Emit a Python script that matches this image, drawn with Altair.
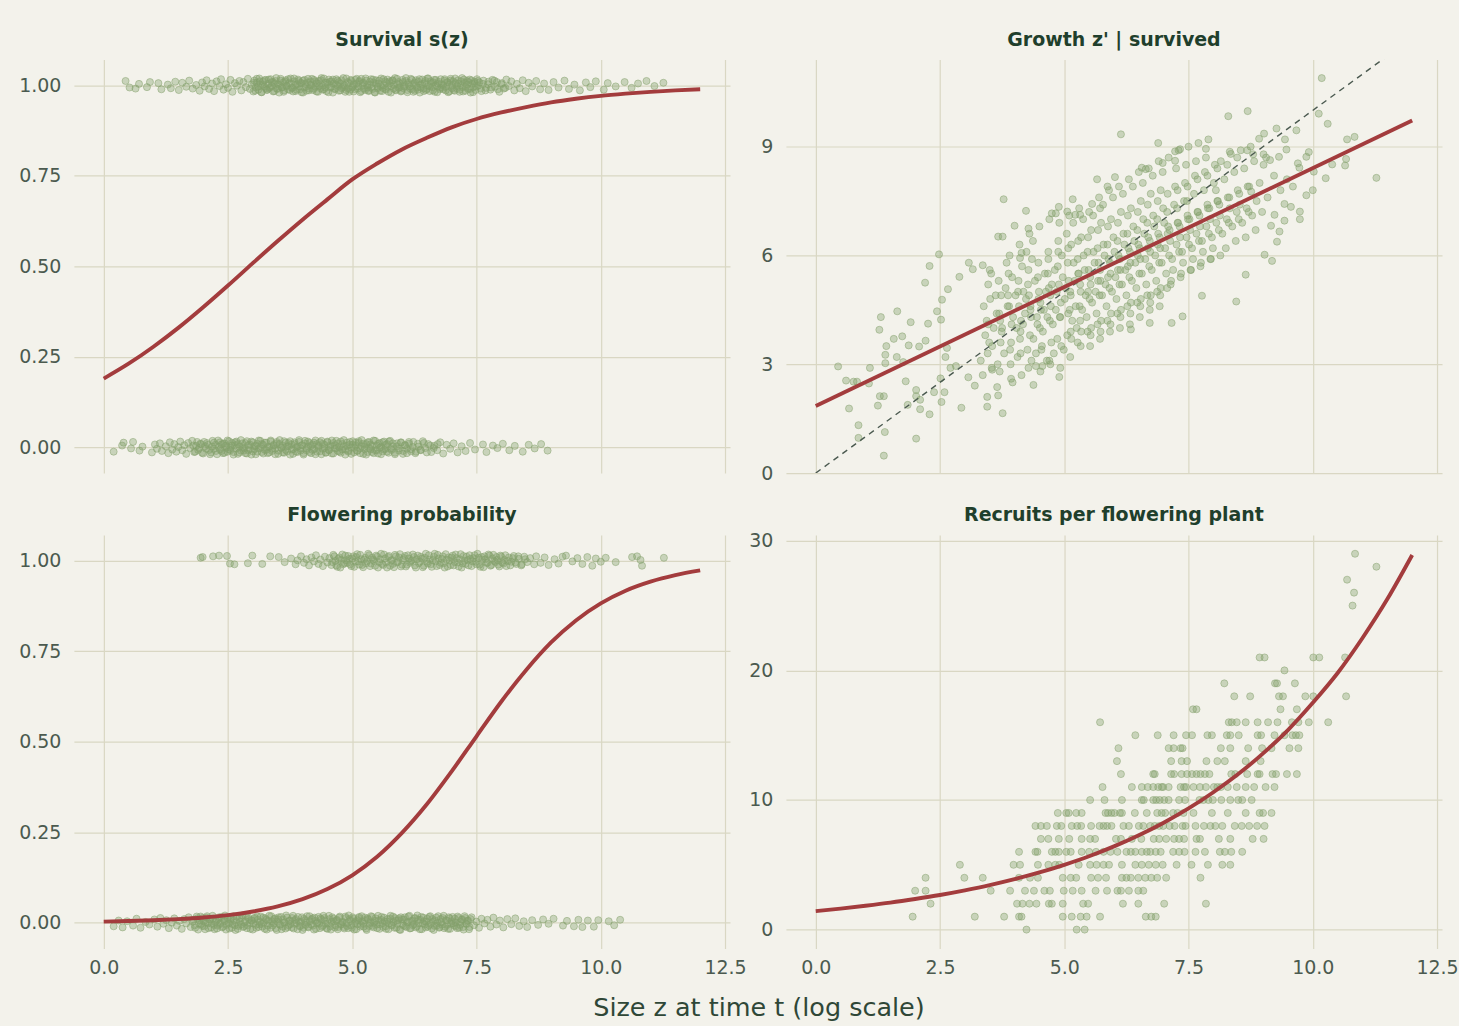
import altair as alt
import pandas as pd

# ---------------- text ----------------
PANEL_TITLES = ["Survival s(z)", "Growth z' | survived", "Flowering probability", "Recruits per flowering plant"]
X_TITLE = "Size z at time t (log scale)"
X_TICKS = [0, 2.5, 5, 7.5, 10, 12.5]
PROB_TICKS = [0, 0.25, 0.5, 0.75, 1.0]
GROWTH_TICKS = [0, 3, 6, 9]
RECRUIT_TICKS = [0, 10, 20, 30]

# ---------------- fitted curves ----------------
CURVE_X = [0.0, 0.5, 1.0, 1.5, 2.0, 2.5, 3.0, 3.5, 4.0, 4.5, 5.0, 5.5, 6.0,
           6.5, 7.0, 7.5, 8.0, 8.5, 9.0, 9.5, 10.0, 10.5, 11.0, 11.5, 12.0]
SURV_CURVE = [0.190, 0.231, 0.278, 0.330, 0.387, 0.447, 0.509, 0.570, 0.629, 0.685, 0.740, 0.784, 0.823,
              0.855, 0.884, 0.907, 0.925, 0.940, 0.953, 0.963, 0.971, 0.977, 0.982, 0.986, 0.989]
FLOWER_CURVE = [0.003, 0.0045, 0.0066, 0.0098, 0.0143, 0.021, 0.031, 0.045, 0.065, 0.093, 0.131, 0.182, 0.248,
                0.327, 0.418, 0.515, 0.611, 0.698, 0.774, 0.835, 0.882, 0.917, 0.942, 0.960, 0.973]
RECRUIT_CURVE = [1.43, 1.62, 1.84, 2.08, 2.36, 2.67, 3.03, 3.43, 3.89, 4.41, 5.0, 5.66, 6.42,
                 7.28, 8.25, 9.35, 10.6, 12.0, 13.6, 15.4, 17.5, 19.8, 22.5, 25.5, 28.9]
GROWTH_LINE_X = [0.0, 12.0]
GROWTH_LINE_Y = [1.85, 9.72]
IDENTITY_X = [0.0, 12.0]
IDENTITY_Y = [0.0, 12.0]

# ---------------- binary observations: (size, vertical jitter in 1/1000) ----------------
SURV_ALIVE = [
    (0.44,12),(0.52,-6),(0.64,-9),(0.71,4),(0.87,-5),(0.93,9),(1.10,6),(1.16,-11),(1.29,2),(1.35,-8),
    (1.44,10),(1.51,-13),(1.58,7),(1.66,-4),(1.72,13),(1.79,-9),(1.86,1),(1.93,-15),(1.98,8),(2.03,-3),
    (2.07,14),(2.12,-10),(2.18,5),(2.22,-16),(2.27,11),(2.33,-2),(2.36,17),(2.41,-12),(2.46,3),(2.50,-7),
    (2.55,15),(2.59,-18),(2.64,6),(2.68,-1),(2.73,12),(2.77,-14),(2.81,9),(2.86,-5),(2.90,18),(2.94,-10),
    (2.98,2),(3.01,-17),(3.03,13),(3.06,-6),(3.08,7),(3.11,-12),(3.13,19),(3.16,0),(3.18,-19),(3.21,10),
    (3.23,-4),(3.26,15),(3.28,-13),(3.31,4),(3.33,-8),(3.36,17),(3.38,-2),(3.41,9),(3.43,-16),(3.46,12),
    (3.48,-9),(3.51,3),(3.53,-20),(3.56,18),(3.58,-5),(3.61,8),(3.63,-14),(3.66,14),(3.68,-1),(3.71,-11),
    (3.73,6),(3.76,19),(3.78,-7),(3.81,-17),(3.83,11),(3.86,1),(3.88,-12),(3.91,16),(3.93,-3),(3.96,7),
    (3.98,-19),(4.01,13),(4.03,-6),(4.06,4),(4.08,-15),(4.11,18),(4.13,-9),(4.16,10),(4.18,0),(4.21,-13),
    (4.23,15),(4.26,-4),(4.28,6),(4.31,-18),(4.33,12),(4.36,-8),(4.38,20),(4.41,-1),(4.43,-11),(4.46,8),
    (4.48,-16),(4.51,3),(4.53,16),(4.56,-6),(4.58,11),(4.61,-20),(4.63,5),(4.66,-10),(4.68,17),(4.71,-2),
    (4.73,9),(4.76,-14),(4.78,14),(4.81,-5),(4.83,1),(4.86,-18),(4.88,19),(4.91,-8),(4.93,6),(4.96,-12),
    (4.98,12),(5.01,-3),(5.03,-17),(5.06,15),(5.08,4),(5.11,-9),(5.13,10),(5.16,-19),(5.18,18),(5.21,-1),
    (5.23,7),(5.26,-13),(5.28,13),(5.31,-6),(5.33,-16),(5.36,2),(5.38,17),(5.41,-10),(5.43,8),(5.46,-20),
    (5.48,14),(5.51,-4),(5.53,5),(5.56,-15),(5.58,19),(5.61,-7),(5.63,0),(5.66,11),(5.68,-12),(5.71,16),
    (5.73,-18),(5.76,6),(5.78,-2),(5.81,13),(5.83,-9),(5.86,20),(5.88,-14),(5.91,3),(5.93,9),(5.96,-5),
    (5.98,-17),(6.01,15),(6.03,-8),(6.06,1),(6.08,12),(6.11,-19),(6.13,7),(6.16,-3),(6.18,18),(6.21,-11),
    (6.23,4),(6.26,-15),(6.28,14),(6.31,-6),(6.33,10),(6.36,-20),(6.38,2),(6.41,16),(6.43,-9),(6.46,6),
    (6.48,-13),(6.51,19),(6.53,-1),(6.56,-16),(6.58,11),(6.61,-5),(6.63,8),(6.66,-18),(6.68,15),(6.71,-3),
    (6.73,5),(6.76,-11),(6.78,17),(6.81,-7),(6.83,0),(6.86,13),(6.88,-14),(6.91,9),(6.93,-19),(6.96,3),
    (6.98,18),(7.01,-8),(7.03,11),(7.06,-15),(7.08,6),(7.11,-2),(7.13,14),(7.16,-12),(7.18,1),(7.21,20),
    (7.23,-17),(7.26,7),(7.28,-4),(7.31,12),(7.33,-10),(7.36,16),(7.38,-20),(7.41,4),(7.43,-6),(7.46,10),
    (7.48,-13),(7.51,17),(7.53,-1),(7.56,8),(7.60,-16),(7.64,13),(7.69,-7),(7.73,3),(7.78,-12),(7.82,15),
    (7.87,-4),(7.91,9),(7.96,-18),(8.01,6),(8.05,-9),(8.10,16),(8.15,-2),(8.20,11),(8.26,-14),(8.31,4),
    (8.37,-8),(8.43,14),(8.49,-16),(8.55,7),(8.62,-3),(8.70,12),(8.78,-11),(8.86,5),(8.95,-13),(9.05,9),
    (9.15,-6),(9.27,13),(9.36,-10),(9.47,2),(9.58,-14),(9.70,8),(9.79,-5),(9.90,11),(10.06,-12),(10.14,6),
    (10.30,-3),(10.48,9),(10.62,-7),(10.75,5),(10.92,12),(11.08,-2),(11.26,7),
    (3.02,7),(3.05,-15),(3.08,18),(3.11,-3),(3.14,11),(3.17,-19),(3.20,2),(3.23,14),(3.26,-8),(3.29,-12),
    (3.32,16),(3.35,-5),(3.38,9),(3.41,-17),(3.44,4),(3.47,20),(3.50,-10),(3.53,0),(3.56,13),(3.59,-6),
    (3.62,-18),(3.65,10),(3.68,-2),(3.71,17),(3.74,-13),(3.77,5),(3.80,-7),(3.83,19),(3.86,-16),(3.89,3),
    (3.92,12),(3.95,-11),(3.98,6),(4.01,-20),(4.04,15),(4.07,-4),(4.10,8),(4.13,-14),(4.16,1),(4.19,18),
    (4.22,-9),(4.25,11),(4.28,-17),(4.31,4),(4.34,-2),(4.37,14),(4.40,-12),(4.43,19),(4.46,-6),(4.49,7),
    (4.52,-19),(4.55,10),(4.58,-4),(4.61,16),(4.64,-10),(4.67,2),(4.70,13),(4.73,-15),(4.76,5),(4.79,-8),
    (4.82,20),(4.85,-1),(4.88,-13),(4.91,9),(4.94,-18),(4.97,15),(5.00,-6),(5.03,3),(5.06,-11),(5.09,18),
    (5.12,-3),(5.15,12),(5.18,-16),(5.21,6),(5.24,-9),(5.27,19),(5.30,0),(5.33,-14),(5.36,10),(5.39,-5),
    (5.42,16),(5.45,-19),(5.48,4),(5.51,-8),(5.54,13),(5.57,-2),(5.60,-16),(5.63,17),(5.66,-10),(5.69,7),
    (5.72,-4),(5.75,11),(5.78,-20),(5.81,14),(5.84,1),(5.87,-12),(5.90,18),(5.93,-7),(5.96,5),(5.99,-15),
    (6.02,9),(6.05,-3),(6.08,20),(6.11,-13),(6.14,2),(6.17,-9),(6.20,15),(6.23,-18),(6.26,8),(6.29,-1),
    (6.32,-12),(6.35,17),(6.38,-6),(6.41,4),(6.44,-16),(6.47,12),(6.50,-10),(6.53,19),(6.56,-3),(6.59,6),
    (6.62,-14),(6.65,15),(6.68,0),(6.71,-19),(6.74,10),(6.77,-7),(6.80,3),(6.83,-11),(6.86,17),(6.89,-4),
    (6.92,8),(6.95,-17),(6.98,13),(7.01,-1),(7.04,-13),(7.07,19),(7.10,-8),(7.13,5),(7.16,-18),(7.19,11),
    (7.22,-5),(7.25,16),(7.28,-15),(7.31,2),(7.34,9),(7.37,-10),(7.40,14),(7.43,-19),(7.46,6),(7.49,-3),
    (7.53,12),(7.58,-9),(7.63,4),(7.68,-14),(7.74,10),(7.80,-6),(7.86,13),(7.93,-11),(8.00,3),(8.08,-7),
]
SURV_DEAD = [
    (0.20,-12),(0.37,5),(0.40,13),(0.55,-3),(0.59,15),(0.72,-9),(0.78,2),(0.97,-14),(1.03,8),(1.07,-4),
    (1.13,11),(1.17,-10),(1.25,3),(1.30,-16),(1.33,14),(1.38,-6),(1.42,9),(1.46,-12),(1.50,1),(1.54,16),
    (1.58,-8),(1.62,6),(1.66,-18),(1.70,12),(1.74,-2),(1.78,18),(1.82,-13),(1.86,4),(1.90,-7),(1.94,10),
    (1.98,-15),(2.02,15),(2.06,-4),(2.10,7),(2.14,-19),(2.18,2),(2.22,13),(2.26,-10),(2.30,19),(2.34,-6),
    (2.37,8),(2.40,-16),(2.43,11),(2.46,-1),(2.49,-12),(2.52,17),(2.55,-8),(2.58,5),(2.61,-20),(2.64,14),
    (2.67,-3),(2.70,9),(2.73,-14),(2.76,20),(2.79,0),(2.82,-9),(2.85,12),(2.88,-17),(2.91,6),(2.94,-5),
    (2.97,16),(3.00,-11),(3.03,3),(3.06,-19),(3.09,10),(3.12,-2),(3.15,18),(3.18,-13),(3.21,7),(3.24,-7),
    (3.27,13),(3.30,-16),(3.33,1),(3.36,19),(3.39,-10),(3.42,5),(3.45,-4),(3.48,15),(3.51,-18),(3.54,9),
    (3.57,-1),(3.60,-14),(3.63,17),(3.66,-7),(3.69,3),(3.72,12),(3.75,-20),(3.78,8),(3.81,-5),(3.84,14),
    (3.87,-12),(3.90,2),(3.93,20),(3.96,-9),(3.99,6),(4.02,-16),(4.05,11),(4.08,-3),(4.11,16),(4.14,-13),
    (4.17,4),(4.20,-7),(4.23,13),(4.26,-19),(4.29,9),(4.32,0),(4.35,-11),(4.38,18),(4.41,-4),(4.44,7),
    (4.47,-15),(4.50,14),(4.53,-8),(4.56,2),(4.59,19),(4.62,-17),(4.65,6),(4.68,-2),(4.71,11),(4.74,-12),
    (4.77,16),(4.80,-6),(4.83,3),(4.86,-20),(4.89,13),(4.92,-9),(4.95,8),(4.98,-1),(5.01,17),(5.04,-14),
    (5.07,5),(5.10,-10),(5.13,12),(5.16,-3),(5.19,20),(5.22,-18),(5.25,1),(5.28,9),(5.31,-13),(5.34,15),
    (5.37,-5),(5.40,4),(5.43,-16),(5.46,18),(5.49,-8),(5.52,10),(5.55,-1),(5.58,-19),(5.61,14),(5.64,-6),
    (5.67,7),(5.70,-12),(5.74,16),(5.78,-3),(5.82,11),(5.86,-15),(5.90,3),(5.94,-9),(5.98,13),(6.02,-18),
    (6.06,6),(6.10,-4),(6.14,15),(6.18,-11),(6.22,1),(6.27,-16),(6.32,10),(6.37,-7),(6.42,17),(6.47,-2),
    (6.53,9),(6.59,-13),(6.65,4),(6.71,-8),(6.77,14),(6.83,-17),(6.90,7),(6.97,-4),(7.04,11),(7.12,-14),
    (7.20,3),(7.28,-10),(7.37,12),(7.47,-6),(7.63,8),(7.70,-13),(7.83,5),(7.92,-2),(8.03,10),(8.16,-8),
    (8.27,4),(8.43,-12),(8.55,7),(8.67,-3),(8.80,9),(8.93,-9),
    (1.80,5),(1.84,-12),(1.88,15),(1.92,-2),(1.96,9),(2.00,-17),(2.04,3),(2.08,12),(2.12,-7),(2.16,-14),
    (2.19,18),(2.22,-4),(2.25,7),(2.28,-19),(2.31,1),(2.34,14),(2.37,-10),(2.40,10),(2.43,-15),(2.46,4),
    (2.49,19),(2.52,-6),(2.55,-1),(2.58,12),(2.61,-13),(2.64,6),(2.67,16),(2.70,-18),(2.73,2),(2.76,-9),
    (2.79,11),(2.82,-3),(2.85,-16),(2.88,17),(2.91,-8),(2.94,8),(2.97,-20),(3.00,14),(3.03,-5),(3.06,4),
    (3.09,-12),(3.12,19),(3.15,-2),(3.18,9),(3.21,-17),(3.24,13),(3.27,-7),(3.30,1),(3.33,-14),(3.36,16),
    (3.39,-4),(3.42,7),(3.45,-19),(3.48,11),(3.51,-9),(3.54,20),(3.57,-1),(3.60,5),(3.63,-15),(3.66,13),
    (3.69,-11),(3.72,3),(3.75,17),(3.78,-6),(3.81,-18),(3.84,9),(3.87,0),(3.90,-13),(3.93,15),(3.96,-3),
    (3.99,6),(4.02,-20),(4.05,18),(4.08,-8),(4.11,2),(4.14,12),(4.17,-16),(4.20,8),(4.23,-5),(4.26,19),
    (4.29,-12),(4.32,4),(4.35,14),(4.38,-19),(4.41,10),(4.44,-2),(4.47,-14),(4.50,16),(4.53,-7),(4.56,6),
    (4.59,-17),(4.62,12),(4.65,-3),(4.68,18),(4.71,-10),(4.74,1),(4.77,-15),(4.80,9),(4.83,20),(4.86,-6),
    (4.89,4),(4.92,-12),(4.95,15),(4.98,-18),(5.01,7),(5.04,-1),(5.07,13),(5.10,-9),(5.13,17),(5.16,-16),
    (5.19,3),(5.22,10),(5.25,-5),(5.28,-20),(5.31,14),(5.34,-2),(5.37,8),(5.40,-13),(5.43,19),(5.46,-8),
    (5.49,5),(5.52,-17),(5.55,12),(5.58,1),(5.61,-11),(5.64,16),(5.67,-4),(5.70,9),(5.73,-15),(5.76,18),
    (5.79,-7),(5.82,3),(5.86,-19),(5.90,11),(5.94,-3),(5.98,14),(6.02,-10),(6.06,6),(6.10,-16),(6.14,10),
    (6.18,-5),(6.23,15),(6.28,-12),(6.33,2),(6.38,-8),(6.44,12),(6.50,-14),(6.57,5),(6.64,-2),(6.72,9),
]
FLOWER_YES = [
    (1.95,8),(1.99,10),(2.20,12),(2.32,14),(2.48,13),(2.54,-8),(2.63,-10),(2.90,-7),(2.99,14),(3.19,-9),
    (3.35,12),(3.52,10),(3.64,-4),(3.77,6),(3.86,-10),(3.90,1),(3.97,12),(4.03,-6),(4.08,4),(4.13,-13),
    (4.18,9),(4.23,-2),(4.27,15),(4.32,-9),(4.36,3),(4.41,-15),(4.45,11),(4.50,-5),(4.54,7),(4.58,-12),
    (4.62,16),(4.66,-1),(4.70,-17),(4.74,9),(4.78,2),(4.82,-10),(4.86,14),(4.90,-6),(4.94,5),(4.98,-15),
    (5.02,12),(5.06,-3),(5.10,18),(5.14,-11),(5.18,4),(5.22,-18),(5.26,8),(5.30,-1),(5.34,15),(5.38,-8),
    (5.42,3),(5.46,-14),(5.50,11),(5.54,-4),(5.58,19),(5.62,-12),(5.66,6),(5.70,-19),(5.74,13),(5.78,0),
    (5.82,-9),(5.86,16),(5.90,-5),(5.94,9),(5.98,-16),(6.02,2),(6.06,13),(6.10,-11),(6.14,6),(6.18,-2),
    (6.22,17),(6.26,-13),(6.30,4),(6.34,-7),(6.38,11),(6.42,-18),(6.46,8),(6.50,-3),(6.54,15),(6.58,-10),
    (6.62,1),(6.66,19),(6.70,-15),(6.74,6),(6.78,-6),(6.82,12),(6.86,-19),(6.90,3),(6.94,9),(6.98,-12),
    (7.02,14),(7.06,-4),(7.10,7),(7.14,-16),(7.18,18),(7.22,-8),(7.26,0),(7.30,11),(7.34,-13),(7.38,5),
    (7.42,-2),(7.46,15),(7.50,-10),(7.54,8),(7.58,-17),(7.62,3),(7.66,12),(7.70,-6),(7.74,17),(7.78,-14),
    (7.82,6),(7.86,-1),(7.90,10),(7.94,-11),(7.98,14),(8.02,-5),(8.06,2),(8.10,-15),(8.15,9),(8.20,-3),
    (8.25,13),(8.30,-9),(8.35,5),(8.40,-13),(8.46,11),(8.52,-4),(8.58,7),(8.66,-10),(8.70,12),(8.79,-6),
    (8.87,9),(8.95,-12),(9.07,4),(9.15,-8),(9.23,11),(9.30,14),(9.43,-2),(9.53,7),(9.63,-9),(9.73,10),
    (9.83,-14),(9.90,6),(10.00,-3),(10.10,8),(10.30,-4),(10.63,10),(10.73,12),(10.80,2),(10.83,-14),(11.27,8),
    (4.60,-4),(4.64,12),(4.68,-13),(4.72,5),(4.76,-19),(4.80,17),(4.84,-7),(4.88,1),(4.92,13),(4.96,-10),
    (5.00,6),(5.04,-17),(5.08,10),(5.12,-2),(5.16,16),(5.20,-12),(5.24,3),(5.28,-7),(5.32,19),(5.36,-15),
    (5.40,8),(5.44,-1),(5.48,14),(5.52,-19),(5.56,4),(5.60,-9),(5.64,17),(5.68,-5),(5.72,10),(5.76,-14),
    (5.80,2),(5.84,-18),(5.88,12),(5.92,-3),(5.96,18),(6.00,-11),(6.04,7),(6.08,-16),(6.12,15),(6.16,-6),
    (6.20,1),(6.24,10),(6.28,-19),(6.32,14),(6.36,-3),(6.40,6),(6.44,-14),(6.48,19),(6.52,-8),(6.56,3),
    (6.60,-17),(6.64,11),(6.68,-2),(6.72,16),(6.76,-12),(6.80,5),(6.84,-7),(6.88,18),(6.92,-16),(6.96,0),
    (7.00,9),(7.04,-13),(7.08,17),(7.12,-5),(7.16,4),(7.20,-19),(7.24,13),(7.28,-9),(7.32,2),(7.36,15),
    (7.40,-15),(7.44,7),(7.48,-3),(7.52,19),(7.56,-11),(7.60,10),(7.64,-18),(7.68,4),(7.72,-6),(7.76,14),
    (7.80,-12),(7.84,16),(7.88,-4),(7.92,2),(7.96,-16),(8.00,11),(8.04,-8),(8.08,15),(8.13,-1),(8.18,-13),
    (8.23,7),(8.28,-5),(8.34,12),(8.41,-10),(8.48,4),
]
FLOWER_NO = [
    (0.20,-10),(0.30,6),(0.38,-13),(0.47,4),(0.59,-8),(0.66,11),(0.74,-14),(0.84,2),(0.92,-5),(1.02,9),
    (1.08,-11),(1.14,13),(1.20,-3),(1.26,7),(1.31,-15),(1.37,0),(1.42,12),(1.47,-8),(1.52,5),(1.57,-17),
    (1.62,10),(1.66,-2),(1.71,15),(1.75,-12),(1.79,3),(1.83,-7),(1.87,17),(1.90,-19),(1.93,6),(1.96,-4),
    (1.99,13),(2.02,-10),(2.05,1),(2.08,18),(2.11,-15),(2.14,8),(2.17,-3),(2.20,11),(2.23,-18),(2.26,4),
    (2.29,-8),(2.32,15),(2.35,-1),(2.38,-13),(2.41,9),(2.44,20),(2.47,-6),(2.50,2),(2.53,-16),(2.56,12),
    (2.59,-4),(2.62,7),(2.65,-20),(2.68,16),(2.71,-9),(2.74,3),(2.77,13),(2.80,-12),(2.83,0),(2.86,19),
    (2.89,-7),(2.92,10),(2.95,-17),(2.98,5),(3.01,-2),(3.04,14),(3.07,-14),(3.10,8),(3.13,-5),(3.16,17),
    (3.19,-11),(3.22,1),(3.25,12),(3.28,-19),(3.31,6),(3.34,-3),(3.37,18),(3.40,-8),(3.43,10),(3.46,-15),
    (3.49,3),(3.52,15),(3.55,-6),(3.58,-18),(3.61,9),(3.64,0),(3.67,20),(3.70,-12),(3.73,5),(3.76,-4),
    (3.79,13),(3.82,-16),(3.85,7),(3.88,-1),(3.91,16),(3.94,-10),(3.97,2),(4.00,-20),(4.03,11),(4.06,-6),
    (4.09,18),(4.12,-13),(4.15,4),(4.18,9),(4.21,-8),(4.24,14),(4.27,-17),(4.30,1),(4.33,-3),(4.36,12),
    (4.39,-11),(4.42,19),(4.45,6),(4.48,-15),(4.51,-2),(4.54,10),(4.57,-19),(4.60,15),(4.63,3),(4.66,-7),
    (4.69,8),(4.72,-12),(4.75,17),(4.78,-4),(4.81,1),(4.84,-16),(4.87,13),(4.90,-9),(4.93,20),(4.96,5),
    (4.99,-14),(5.02,11),(5.05,-1),(5.08,-18),(5.11,7),(5.14,16),(5.17,-6),(5.20,3),(5.23,-11),(5.26,14),
    (5.29,-20),(5.32,9),(5.35,-3),(5.38,18),(5.41,-9),(5.44,0),(5.47,12),(5.50,-15),(5.53,6),(5.56,-5),
    (5.59,16),(5.62,-12),(5.65,4),(5.68,-17),(5.71,10),(5.74,-2),(5.77,19),(5.80,-8),(5.83,2),(5.86,13),
    (5.89,-14),(5.92,7),(5.95,-19),(5.98,15),(6.01,-4),(6.04,9),(6.07,-10),(6.10,1),(6.13,17),(6.16,-16),
    (6.19,5),(6.22,-7),(6.25,12),(6.28,-13),(6.31,20),(6.34,-1),(6.37,8),(6.40,-18),(6.43,14),(6.46,-5),
    (6.49,3),(6.52,-11),(6.55,16),(6.58,-3),(6.61,10),(6.64,-20),(6.67,6),(6.70,-8),(6.73,18),(6.76,-12),
    (6.79,1),(6.82,13),(6.85,-15),(6.88,7),(6.91,-6),(6.94,15),(6.97,-17),(7.00,4),(7.03,-2),(7.06,11),
    (7.09,-10),(7.12,17),(7.15,-14),(7.18,2),(7.21,9),(7.24,-19),(7.27,13),(7.30,-4),(7.33,6),(7.36,-12),
    (7.40,15),(7.45,-7),(7.50,3),(7.55,-14),(7.60,11),(7.66,-2),(7.72,8),(7.78,-11),(7.84,14),(7.90,-5),
    (7.97,6),(8.04,-13),(8.12,10),(8.20,-4),(8.28,12),(8.36,-9),(8.45,4),(8.52,-12),(8.62,7),(8.74,-6),
    (8.84,9),(8.95,-3),(9.05,11),(9.24,-8),(9.32,5),(9.46,-10),(9.55,8),(9.63,-12),(9.74,6),(9.86,-11),
    (9.95,7),(10.16,4),(10.27,-7),(10.39,8),
    (1.80,8),(1.84,-14),(1.88,12),(1.92,-3),(1.95,17),(1.98,-9),(2.01,4),(2.04,-18),(2.07,14),(2.10,-1),
    (2.13,9),(2.16,-13),(2.19,19),(2.22,-6),(2.25,2),(2.28,-16),(2.31,11),(2.34,-4),(2.37,16),(2.40,-11),
    (2.43,5),(2.46,-19),(2.49,13),(2.52,-2),(2.55,8),(2.58,-14),(2.61,18),(2.64,-7),(2.67,1),(2.70,-17),
    (2.73,12),(2.76,-5),(2.79,20),(2.82,-10),(2.85,4),(2.88,-15),(2.91,15),(2.94,-1),(2.97,7),(3.00,-19),
    (3.03,11),(3.06,-6),(3.09,17),(3.12,-12),(3.15,2),(3.18,-3),(3.21,14),(3.24,-17),(3.27,8),(3.30,-8),
    (3.33,19),(3.36,-14),(3.39,4),(3.42,-2),(3.45,12),(3.48,-20),(3.51,9),(3.54,-5),(3.57,16),(3.60,-11),
    (3.63,1),(3.66,-16),(3.69,14),(3.72,-7),(3.75,6),(3.78,-13),(3.81,19),(3.84,-3),(3.87,10),(3.90,-18),
    (3.93,3),(3.96,-9),(3.99,15),(4.02,-14),(4.05,7),(4.08,0),(4.11,-11),(4.14,18),(4.17,-5),(4.20,12),
    (4.23,-19),(4.26,5),(4.29,-2),(4.32,16),(4.35,-15),(4.38,9),(4.41,-8),(4.44,13),(4.47,-3),(4.50,-17),
    (4.53,19),(4.56,-10),(4.59,2),(4.62,11),(4.65,-13),(4.68,6),(4.71,-18),(4.74,14),(4.77,-6),(4.80,3),
    (4.83,-12),(4.86,17),(4.89,-1),(4.92,-15),(4.95,10),(4.98,-7),(5.01,15),(5.04,-19),(5.07,4),(5.10,-4),
    (5.13,13),(5.16,-11),(5.19,18),(5.22,-2),(5.25,7),(5.28,-16),(5.31,12),(5.34,-9),(5.37,1),(5.40,16),
    (5.43,-13),(5.46,5),(5.49,-5),(5.52,19),(5.55,-17),(5.58,8),(5.61,-1),(5.64,14),(5.67,-10),(5.70,3),
    (5.73,-18),(5.76,11),(5.79,-6),(5.82,17),(5.85,-14),(5.88,6),(5.91,-3),(5.94,12),(5.97,-20),(6.00,9),
    (6.03,-8),(6.06,15),(6.09,-12),(6.12,2),(6.15,19),(6.18,-15),(6.21,5),(6.24,-4),(6.27,13),(6.30,-10),
    (6.33,8),(6.36,-18),(6.39,16),(6.42,-2),(6.45,4),(6.48,-13),(6.51,11),(6.54,-7),(6.57,18),(6.60,-16),
    (6.63,3),(6.66,-9),(6.69,14),(6.72,-1),(6.75,-14),(6.78,10),(6.81,-5),(6.84,19),(6.87,-11),(6.90,6),
    (6.93,-17),(6.96,12),(6.99,-3),(7.02,16),(7.05,-8),(7.08,1),(7.11,-15),(7.14,13),(7.17,-6),(7.20,8),
    (7.23,-12),(7.26,18),(7.29,-2),(7.32,5),(7.35,-18),(7.38,10),
]

# ---------------- growth observations: (size t, size t+1) ----------------
GROWTH_PTS = [
    (1.37,0.48),(2.02,0.95),(0.86,0.97),(0.86,1.32),(1.39,1.13),(0.67,1.78),(1.25,1.86),(1.29,2.12),(1.37,2.12),(1.85,1.88),
    (2.10,1.76),(2.29,1.62),(2.02,2.12),(2.53,1.96),(2.93,1.80),(3.45,1.83),(3.45,2.10),(3.76,1.65),(3.67,2.14),(3.96,2.50),
    (0.45,2.94),(0.61,2.55),(0.76,2.52),(0.83,2.52),(1.09,2.90),(1.07,2.47),(1.31,4.30),(1.64,4.46),(1.28,3.95),(1.91,4.16),
    (1.42,3.50),(1.57,3.70),(1.74,3.77),(1.87,3.52),(1.40,3.26),(1.40,3.03),(1.63,3.20),(1.76,3.06),(1.81,2.53),(2.08,3.49),
    (2.21,3.65),(2.26,4.12),(2.20,5.25),(2.29,5.71),(2.48,6.03),(2.02,2.29),(2.10,2.02),(2.38,2.23),(2.51,2.61),(2.59,2.23),
    (2.52,4.23),(2.44,4.46),(2.54,4.78),(2.66,5.07),(2.64,3.45),(2.61,3.20),(2.71,2.90),(2.82,2.95),(3.07,2.64),(3.20,2.41),
    (3.55,2.85),(3.65,2.37),(3.93,2.60),(2.89,5.41),(3.08,5.80),(3.16,5.62),(3.36,5.73),(3.78,7.55),(4.00,6.82),(3.67,6.52),
    (3.76,6.52),(4.23,7.23),(4.28,6.74),(4.14,6.07),(4.11,5.93),(4.43,2.95),(4.56,2.95),(4.38,2.43),(4.70,3.10),(4.90,2.65),
    (5.17,7.55),(4.89,7.34),(5.06,7.21),(4.75,7.16),(4.83,7.16),(5.22,7.12),(5.32,7.12),(5.56,7.42),(5.72,7.30),(5.66,8.10),
    (5.87,7.90),(6.02,8.16),
    (10.18,10.89),(10.12,9.91),(10.30,9.63),(11.28,8.14),(10.69,9.20),(10.84,9.27),(10.67,8.66),(10.65,8.48),(10.39,8.51),(10.26,8.13),
    (9.67,9.45),(9.44,9.20),(9.27,9.50),(9.02,9.36),(8.92,9.22),(8.69,9.98),(8.30,9.84),(9.47,8.92),(9.32,8.72),(9.14,8.63),
    (9.01,8.79),(9.01,8.50),(9.92,8.85),(9.87,8.72),(9.70,8.54),(9.73,8.42),(10.02,8.31),(10.00,7.80),(9.87,7.66),(9.74,7.21),
    (9.74,7.00),(9.56,7.34),(9.43,7.42),(9.23,7.12),(9.43,6.96),(9.16,6.82),(9.33,6.66),(9.28,6.38),(9.03,6.02),(9.18,5.85),
    (8.65,5.47),(8.46,4.73),(7.77,4.89),(7.85,8.94),(8.33,8.86),(8.80,8.79),(8.76,7.76),(7.38,4.32),(7.16,4.14),(6.72,4.14),
    (6.34,3.96),(6.89,9.10),(6.14,9.34),(7.23,8.87),(7.33,8.93),(6.98,8.55),(7.23,8.61),(6.56,8.42),(6.64,8.38),
    (3.32,3.1),(3.38,4.6),(3.41,3.8),(3.47,5.2),(3.36,2.7),(3.44,4.2),(3.55,3.5),(3.62,4.9),(3.58,4.0),(3.66,3.0),
    (3.53,5.5),(3.64,4.4),(3.74,3.9),(3.82,5.1),(3.79,3.3),(3.86,4.6),(3.71,4.2),(3.84,5.8),(3.93,3.6),(4.02,4.9),
    (3.97,4.3),(4.06,3.2),(3.95,5.4),(4.04,4.0),(4.12,3.9),(4.18,5.0),(4.21,4.4),(4.26,3.4),(4.15,5.7),(4.23,4.8),
    (4.28,2.9),(4.17,4.1),(4.24,6.1),(4.32,4.5),(4.38,3.7),(4.41,5.3),(4.46,4.1),(4.35,5.9),(4.43,3.3),(4.48,4.8),
    (4.37,6.4),(4.45,4.3),(4.52,4.7),(4.57,3.9),(4.61,5.5),(4.66,4.3),(4.55,3.5),(4.63,5.0),(4.68,6.1),(4.59,4.5),
    (4.65,3.1),(4.72,4.9),(4.77,4.1),(4.81,5.6),(4.86,3.7),(4.75,5.2),(4.83,4.5),(4.88,6.4),(4.79,3.3),(4.85,5.0),
    (4.92,4.3),(4.97,5.4),(5.01,4.8),(5.06,3.8),(4.95,6.0),(5.03,5.1),(5.08,4.4),(4.99,3.4),(5.05,6.6),(5.12,5.0),
    (5.16,4.2),(5.19,5.8),(5.23,4.6),(5.27,3.6),(5.14,6.3),(5.21,5.3),(5.25,4.0),(5.18,6.9),(5.28,5.5),(5.13,3.9),
    (5.32,5.2),(5.36,4.5),(5.39,6.0),(5.43,4.9),(5.47,3.9),(5.34,6.5),(5.41,5.6),(5.45,4.3),(5.38,7.0),(5.48,5.0),
    (5.33,3.5),(5.52,5.4),(5.56,4.7),(5.59,6.1),(5.63,5.0),(5.67,4.1),(5.54,6.7),(5.61,5.8),(5.65,4.4),(5.58,7.1),
    (5.68,5.3),(5.53,3.8),(5.72,5.6),(5.76,4.9),(5.79,6.3),(5.83,5.2),(5.87,4.2),(5.74,6.9),(5.81,6.0),(5.85,4.6),
    (5.78,7.4),(5.88,5.4),(5.73,3.9),(5.92,5.8),(5.96,5.0),(5.99,6.5),(6.03,5.4),(6.07,4.4),(5.94,7.0),(6.01,6.1),
    (6.05,4.8),(5.98,7.6),(6.08,5.6),(5.93,4.1),(6.12,5.9),(6.16,5.2),(6.19,6.6),(6.23,5.6),(6.27,4.6),(6.14,7.2),
    (6.21,6.3),(6.25,4.9),(6.18,7.7),(6.28,5.7),(6.13,4.3),(6.32,6.1),(6.36,5.3),(6.39,6.8),(6.43,5.8),(6.47,4.7),
    (6.34,7.3),(6.41,6.4),(6.45,5.1),(6.38,7.9),(6.48,6.0),(6.33,4.4),(6.52,6.2),(6.56,5.5),(6.59,7.0),(6.63,5.9),
    (6.67,4.9),(6.54,7.5),(6.61,6.6),(6.65,5.2),(6.58,8.0),(6.68,6.2),(6.53,4.6),(6.72,6.4),(6.76,5.6),(6.79,7.1),
    (6.83,6.0),(6.87,5.0),(6.74,7.7),(6.81,6.8),(6.85,5.3),(6.78,8.2),(6.88,6.3),(6.73,4.7),(6.92,6.5),(6.96,5.8),
    (6.99,7.3),(7.03,6.2),(7.07,5.1),(6.94,7.8),(7.01,6.9),(7.05,5.5),(6.98,8.3),(7.08,6.6),(6.93,4.9),(7.12,6.7),
    (7.17,5.9),(7.21,7.4),(7.26,6.3),(7.15,5.3),(7.23,7.9),(7.28,6.9),(7.19,5.6),(7.25,8.4),(7.32,6.8),(7.37,6.1),
    (7.41,7.5),(7.46,6.5),(7.35,5.5),(7.43,8.0),(7.48,7.1),(7.39,5.8),(7.45,8.5),(7.52,7.0),(7.57,6.2),(7.61,7.7),
    (7.66,6.6),(7.55,5.6),(7.63,8.2),(7.68,7.2),(7.59,5.9),(7.65,8.6),(7.72,7.1),(7.77,6.4),(7.81,7.8),(7.86,6.8),
    (7.75,5.8),(7.83,8.3),(7.88,7.4),(7.79,6.1),(7.85,8.7),(7.92,7.3),(7.97,6.5),(8.01,8.0),(8.06,6.9),(7.95,5.9),
    (8.03,8.5),(8.08,7.5),(7.99,6.2),(8.05,7.8),(8.12,7.4),(8.18,6.6),(8.22,8.1),(8.27,7.0),(8.15,8.6),(8.25,6.2),
    (8.32,7.6),(8.38,6.8),(8.42,8.3),(8.47,7.2),(8.35,8.8),(8.45,6.4),(8.52,7.7),(8.58,6.9),(8.62,8.4),(8.67,7.3),
    (8.55,8.9),(8.65,6.5),(8.72,7.9),(8.78,7.1),(8.82,8.6),(8.87,7.5),(8.75,9.0),(8.85,6.7),(8.93,8.0),(8.98,7.2),
    (9.06,8.7),(9.09,7.6),(9.22,8.2),(9.35,7.8),(9.48,8.1),(9.60,7.9),
    (3.49,3.6),(3.51,4.8),(3.47,4.1),(3.54,2.9),(3.50,5.6),(3.46,3.3),(3.69,4.4),(3.72,3.6),(3.68,5.3),(3.75,4.0),
    (3.70,2.8),(3.73,4.9),(3.89,4.6),(3.91,3.4),(3.88,5.5),(3.94,4.1),(3.90,6.0),(3.92,3.0),(3.87,4.9),(4.09,4.6),
    (4.11,3.7),(4.08,5.3),(4.13,4.2),(4.10,6.3),(4.14,2.7),(4.07,5.0),(4.12,3.3),(4.29,4.9),(4.31,3.8),(4.28,5.6),
    (4.33,4.3),(4.30,6.6),(4.34,3.1),(4.27,5.2),(4.32,4.6),(4.49,5.0),(4.51,4.0),(4.48,5.8),(4.53,4.5),(4.50,6.8),
    (4.54,3.4),(4.47,5.4),(4.52,2.8),(4.69,5.1),(4.71,4.2),(4.68,5.9),(4.73,4.6),(4.70,7.0),(4.74,3.6),(4.67,5.5),
    (4.72,3.0),(4.89,5.2),(4.91,4.3),(4.88,6.1),(4.93,4.7),(4.90,6.9),(4.94,3.5),(4.87,5.7),(4.92,2.9),(5.09,5.3),
    (5.11,4.5),(5.08,6.2),(5.13,4.9),(5.10,7.1),(5.14,3.7),(5.07,5.8),(5.12,3.2),(5.29,5.5),(5.31,4.6),(5.28,6.4),
    (5.33,5.0),(5.30,7.3),(5.34,3.9),(5.27,5.9),(5.32,4.2),(5.49,5.6),(5.51,4.8),(5.48,6.5),(5.53,5.2),(5.50,7.2),
    (5.54,4.0),(5.47,6.1),(5.52,3.5),(5.69,5.8),(5.71,4.9),(5.68,6.7),(5.73,5.3),(5.70,7.6),(5.74,4.2),(5.67,6.2),
    (5.72,3.7),(5.89,5.9),(5.91,5.1),(5.88,6.8),(5.93,5.5),(5.90,7.8),(5.94,4.4),(5.87,6.3),(5.92,3.9),(6.09,6.0),
    (6.11,5.2),(6.08,6.9),(6.13,5.6),(6.10,7.9),(6.14,4.5),(6.07,6.4),(6.12,4.0),(6.29,6.2),(6.31,5.4),(6.28,7.1),
    (6.33,5.8),(6.30,8.1),(6.34,4.7),(6.27,6.6),(6.32,4.1),(6.49,6.3),(6.51,5.5),(6.48,7.2),(6.53,5.9),(6.50,8.3),
    (6.54,4.8),(6.47,6.7),(6.52,4.3),(6.69,6.5),(6.71,5.7),(6.68,7.4),(6.73,6.1),(6.70,8.4),(6.74,4.9),(6.67,6.9),
    (6.72,4.5),(6.89,6.6),(6.91,5.8),(6.88,7.5),(6.93,6.2),(6.90,8.6),(6.94,5.1),(6.87,7.0),(6.92,4.6),(7.09,6.8),
    (7.11,6.0),(7.08,7.7),(7.13,6.4),(7.10,8.7),(7.14,5.2),(7.07,7.2),(7.29,6.9),(7.31,6.1),(7.28,7.8),(7.33,6.5),
    (7.30,8.9),(7.34,5.4),(7.27,7.3),(7.49,7.0),(7.51,6.3),(7.48,7.9),(7.53,6.7),(7.50,9.0),(7.54,5.6),(7.47,7.5),
    (7.69,7.2),(7.71,6.4),(7.68,8.1),(7.73,6.8),(7.70,9.1),(7.74,5.7),(7.89,7.3),(7.91,6.6),(7.88,8.2),(7.93,7.0),
    (7.90,9.2),(7.94,5.9),(8.09,7.5),(8.11,6.7),(8.08,8.4),(8.13,7.1),(8.14,6.0),(8.29,7.6),(8.31,6.9),(8.28,8.5),
    (8.33,7.3),(8.49,7.8),(8.51,7.0),(8.48,8.7),(8.53,7.4),(8.69,7.9),(8.71,7.2),(8.68,8.9),
]

# ---------------- recruits: count -> sizes of plants with that count ----------------
RECRUIT_ROWS = [
    (29, [10.85]),
    (28, [11.28]),
    (27, [10.69]),
    (26, [10.83]),
    (25, [10.80]),
    (21, [8.93, 9.03, 10.01, 10.13, 10.65]),
    (20, [9.43]),
    (19, [8.22, 9.24, 9.28, 9.64]),
    (18, [8.42, 8.74, 9.32, 9.40, 9.85, 10.01, 10.67]),
    (17, [7.59, 7.66, 9.35, 9.68]),
    (16, [5.72, 8.31, 8.37, 8.47, 8.65, 8.89, 9.10, 9.29, 9.58, 9.71, 9.92, 10.31]),
    (15, [6.43, 6.88, 7.20, 7.45, 7.57, 7.88, 7.97, 8.27, 8.34, 8.51, 8.89, 8.96, 9.23, 9.43, 9.59, 9.66, 9.73]),
    (14, [6.09, 7.10, 7.20, 7.34, 7.38, 8.15, 8.34, 8.70, 8.98, 9.17, 9.53, 9.71]),
    (13, [6.06, 7.15, 7.36, 7.47, 7.86, 8.08, 8.23, 8.65, 8.95]),
    (12, [6.14, 6.79, 6.82, 7.15, 7.21, 7.36, 7.47, 7.57, 7.66, 7.74, 7.83, 7.92, 8.36, 8.44, 8.68, 8.89, 8.93,
          9.19, 9.26, 9.48, 9.68]),
    (11, [5.77, 6.36, 6.56, 6.68, 6.79, 6.89, 6.96, 6.99, 7.10, 7.34, 7.41, 7.45, 7.60, 7.73, 7.85, 8.01, 8.08,
          8.15, 8.29, 8.47, 8.65, 8.82, 9.05, 9.23]),
    (10, [5.52, 5.81, 6.16, 6.56, 6.60, 6.79, 6.85, 6.92, 7.01, 7.10, 7.31, 7.43, 7.72, 7.80, 7.90, 7.99, 8.16,
          8.34, 8.50, 8.58, 8.77]),
    (9, [4.87, 5.04, 5.09, 5.24, 5.35, 5.83, 5.88, 5.95, 6.01, 6.12, 6.16, 6.42, 6.66, 6.87, 6.96, 7.03, 7.19,
         7.28, 7.40, 7.60, 7.97, 8.29, 8.65, 8.93, 9.00, 9.17]),
    (8, [4.42, 4.53, 4.65, 4.85, 4.94, 5.15, 5.26, 5.34, 5.54, 5.71, 5.79, 5.86, 5.95, 6.19, 6.30, 6.50, 6.59,
         6.73, 6.82, 6.91, 6.99, 7.12, 7.22, 7.38, 7.44, 7.64, 7.81, 7.94, 8.04, 8.18, 8.43, 8.57, 8.72, 8.88, 9.03]),
    (7, [4.53, 4.68, 4.89, 5.10, 5.35, 5.52, 5.62, 6.04, 6.14, 6.36, 6.55, 6.80, 6.91, 7.05, 7.21, 7.31, 7.41,
         7.66, 7.73, 8.11, 8.34, 8.79, 9.01]),
    (6, [4.09, 4.42, 4.46, 4.75, 4.82, 4.89, 5.04, 5.13, 5.35, 5.50, 5.64, 5.79, 5.93, 6.07, 6.25, 6.34, 6.43,
         6.56, 6.66, 6.73, 6.84, 6.94, 7.19, 7.31, 7.42, 7.64, 7.83, 8.13, 8.23, 8.36, 8.58]),
    (5, [2.90, 3.98, 4.11, 4.47, 4.68, 4.82, 4.90, 5.29, 5.52, 5.65, 5.79, 5.90, 6.16, 6.43, 6.56, 6.70, 6.84,
         6.98, 7.26, 7.56, 7.89, 8.18, 8.34]),
    (4, [2.21, 2.99, 3.36, 4.09, 4.31, 4.47, 4.97, 5.13, 5.24, 5.54, 5.68, 5.84, 6.16, 6.25, 6.34, 6.49, 6.63,
         6.75, 6.87, 7.05, 7.74]),
    (3, [2.00, 2.21, 3.52, 3.91, 4.21, 4.39, 4.60, 4.71, 4.99, 5.17, 5.35, 5.63, 5.86, 6.07, 6.14, 6.30, 6.49, 6.59]),
    (2, [2.31, 4.05, 4.16, 4.30, 4.44, 4.69, 4.75, 4.97, 5.38, 5.48, 6.18, 6.49, 7.01, 7.85]),
    (1, [1.95, 3.20, 3.79, 4.09, 4.14, 4.97, 5.15, 5.33, 5.45, 5.72, 6.64, 6.75, 6.84]),
    (0, [4.24, 5.25, 5.41]),
]

# ---------------- styling ----------------
BG = "#f3f2eb"
GRID = "#d9d7c3"
PT_COLOR = "#84a06c"
RED = "#a33c3d"
TITLE_COLOR = "#1f3f2c"
LABEL_COLOR = "#4b5a4f"
XTITLE_COLOR = "#2f4737"
FONT = "DejaVu Sans"
PW, PH = 657, 414
X_DOMAIN = [-0.6, 12.6]


def binary_df(pairs, level):
    return pd.DataFrame({"x": [p[0] for p in pairs], "y": [level + p[1] / 1000.0 for p in pairs]})


surv_pts = pd.concat([binary_df(SURV_ALIVE, 1.0), binary_df(SURV_DEAD, 0.0)], ignore_index=True)
flow_pts = pd.concat([binary_df(FLOWER_YES, 1.0), binary_df(FLOWER_NO, 0.0)], ignore_index=True)
growth_pts = pd.DataFrame({"x": [p[0] for p in GROWTH_PTS], "y": [p[1] for p in GROWTH_PTS]})
rec_x, rec_y = [], []
for count, sizes in RECRUIT_ROWS:
    for s in sizes:
        rec_x.append(s)
        rec_y.append(count)
rec_pts = pd.DataFrame({"x": rec_x, "y": rec_y})

surv_curve = pd.DataFrame({"x": CURVE_X, "y": SURV_CURVE})
flow_curve = pd.DataFrame({"x": CURVE_X, "y": FLOWER_CURVE})
rec_curve = pd.DataFrame({"x": CURVE_X, "y": RECRUIT_CURVE})
growth_line = pd.DataFrame({"x": GROWTH_LINE_X, "y": GROWTH_LINE_Y})
identity = pd.DataFrame({"x": IDENTITY_X, "y": IDENTITY_Y})


def panel(pts, curve, y_domain, y_ticks, y_format, title, x_labels, x_title=False, identity_df=None):
    xaxis_kw = dict(values=X_TICKS, format=".1f", labels=x_labels, grid=True, ticks=False,
                    domain=False, labelPadding=10)
    if x_title:
        xaxis_kw.update(titleX=685.5, titleY=67, titleAlign="center", titleBaseline="alphabetic",
                        titleAngle=0, titleFontSize=25.5, titleFontWeight="normal",
                        titleColor=XTITLE_COLOR, titleFont=FONT)
        xenc = alt.X("x:Q", title=X_TITLE, scale=alt.Scale(domain=X_DOMAIN, nice=False, zero=False),
                     axis=alt.Axis(**xaxis_kw))
    else:
        xenc = alt.X("x:Q", title=None, scale=alt.Scale(domain=X_DOMAIN, nice=False, zero=False),
                     axis=alt.Axis(**xaxis_kw))
    yenc = alt.Y("y:Q", title=None, scale=alt.Scale(domain=y_domain, nice=False, zero=False),
                 axis=alt.Axis(values=y_ticks, format=y_format, grid=True, ticks=False, domain=False,
                               labelPadding=13))

    layers = [
        alt.Chart(pts).mark_circle(size=50, fill=PT_COLOR, fillOpacity=0.38, stroke=PT_COLOR,
                                   strokeOpacity=0.5, strokeWidth=1).encode(x=xenc, y=yenc)
    ]
    if identity_df is not None:
        layers.append(
            alt.Chart(identity_df).mark_line(color="#4b5a50", strokeWidth=1.4, strokeDash=[6, 5], clip=True)
            .encode(x=xenc, y=yenc)
        )
    layers.append(
        alt.Chart(curve).mark_line(color=RED, strokeWidth=3.9, interpolate="monotone", clip=True)
        .encode(x=xenc, y=yenc)
    )
    layers.append(
        alt.Chart(pd.DataFrame({"t": [title]})).mark_text(
            font=FONT, fontSize=19, fontWeight="bold", color=TITLE_COLOR, align="center", baseline="alphabetic"
        ).encode(x=alt.value(PW / 2), y=alt.value(-14), text="t:N")
    )
    return alt.layer(*layers).properties(width=PW, height=PH)


top_left = panel(surv_pts, surv_curve, [-0.071, 1.071], PROB_TICKS, ".2f", PANEL_TITLES[0], False)
top_right = panel(growth_pts, growth_line, [0, 11.4], GROWTH_TICKS, "d", PANEL_TITLES[1], False,
                  identity_df=identity)
bottom_left = panel(flow_pts, flow_curve, [-0.071, 1.071], PROB_TICKS, ".2f", PANEL_TITLES[2], True,
                    x_title=True)
bottom_right = panel(rec_pts, rec_curve, [-1.45, 30.45], RECRUIT_TICKS, "d", PANEL_TITLES[3], True)

chart = (
    alt.concat(top_left, top_right, bottom_left, bottom_right, columns=2,
               spacing={"row": 62, "column": 56}, bounds="flush")
    .properties(padding={"left": 18, "top": 30, "right": 0, "bottom": 4}, background=BG)
    .configure_view(stroke=None)
    .configure_axis(gridColor=GRID, gridWidth=1.2, labelColor=LABEL_COLOR, labelFont=FONT,
                    labelFontSize=19, tickSize=0)
)

chart.save("out.html", embed_options={"renderer": "svg", "actions": False})
